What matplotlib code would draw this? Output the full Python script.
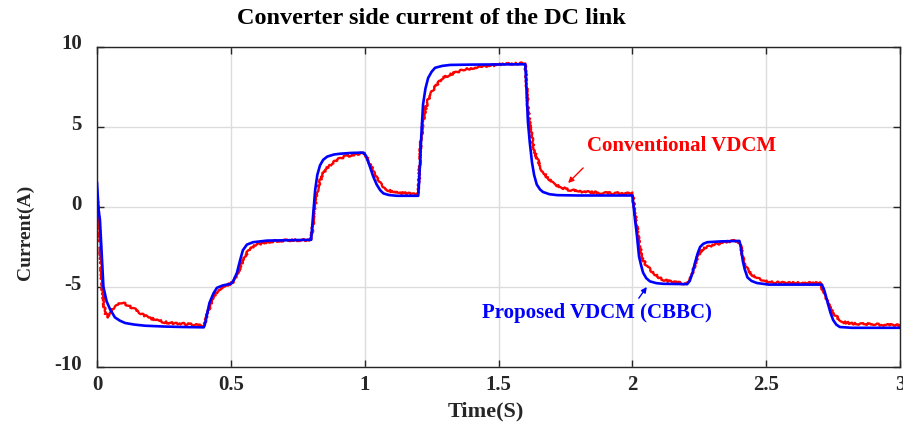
import matplotlib
matplotlib.use("Agg")
import matplotlib.pyplot as plt
import matplotlib.transforms as mtransforms

# proposed VDCM (CBBC) current, sampled off the scope trace
t_prop = [0, 0.006, 0.011, 0.0175, 0.024, 0.036, 0.049, 0.067, 0.085, 0.105, 0.14, 0.18, 0.25, 0.32, 0.399,
          0.405, 0.42, 0.435, 0.448, 0.47, 0.5, 0.51, 0.523, 0.535, 0.545, 0.56, 0.583, 0.635, 0.8,
          0.805, 0.815, 0.823, 0.833, 0.845, 0.86, 0.885, 0.908, 0.95, 0.995,
          1.005, 1.02, 1.032, 1.045, 1.058, 1.07, 1.09, 1.12, 1.2,
          1.203, 1.207, 1.212, 1.218, 1.227, 1.237, 1.25, 1.263, 1.29, 1.32, 1.4, 1.6,
          1.605, 1.61, 1.617, 1.625, 1.633, 1.643, 1.655, 1.666, 1.69, 1.72, 1.8, 2.0,
          2.005, 2.01, 2.016, 2.025, 2.032, 2.04, 2.052, 2.066, 2.09, 2.115, 2.205,
          2.215, 2.225, 2.234, 2.244, 2.253, 2.265, 2.28, 2.33, 2.40,
          2.405, 2.413, 2.42, 2.43, 2.445, 2.465, 2.51, 2.707,
          2.715, 2.722, 2.73, 2.74, 2.75, 2.762, 2.775, 2.82, 3.0]
i_prop = [1.5, -0.2, -0.8, -2.9, -5.0, -5.9, -6.4, -6.9, -7.1, -7.25, -7.35, -7.42, -7.47, -7.5, -7.52,
          -7.2, -6.0, -5.4, -5.05, -4.9, -4.8, -4.6, -4.1, -3.3, -2.7, -2.35, -2.2, -2.1, -2.05,
          -1.0, 1.06, 2.0, 2.6, 2.95, 3.15, 3.28, 3.33, 3.38, 3.4,
          3.2, 2.5, 1.9, 1.4, 1.05, 0.85, 0.75, 0.7, 0.7,
          1.5, 2.8, 4.6, 6.4, 7.4, 8.06, 8.45, 8.7, 8.82, 8.88, 8.9, 8.92,
          7.2, 5.3, 4.0, 2.8, 2.0, 1.4, 1.1, 0.94, 0.8, 0.74, 0.72, 0.72,
          0.0, -0.8, -1.6, -3.1, -3.6, -4.1, -4.45, -4.65, -4.76, -4.8, -4.82,
          -4.6, -4.1, -3.5, -2.9, -2.5, -2.3, -2.2, -2.15, -2.12,
          -2.5, -3.4, -3.9, -4.4, -4.62, -4.75, -4.85, -4.85,
          -5.1, -5.5, -6.0, -6.6, -7.06, -7.35, -7.5, -7.55, -7.55]

# conventional VDCM current
t_conv = [0, 0.005, 0.011, 0.019, 0.025, 0.03, 0.041, 0.048, 0.056, 0.066, 0.078, 0.092, 0.105, 0.12, 0.142,
          0.165, 0.19, 0.22, 0.254, 0.29, 0.318, 0.36, 0.4,
          0.406, 0.413, 0.42, 0.43, 0.44, 0.455, 0.47, 0.485, 0.5, 0.512, 0.527, 0.54, 0.553, 0.565, 0.58,
          0.6, 0.617, 0.65, 0.684, 0.8,
          0.806, 0.81, 0.815, 0.82, 0.826, 0.835, 0.845, 0.857, 0.87, 0.89, 0.908, 0.93, 0.956, 0.98, 1.0,
          1.008, 1.018, 1.027, 1.035, 1.045, 1.057, 1.07, 1.087, 1.105, 1.13, 1.157, 1.2,
          1.203, 1.207, 1.212, 1.218, 1.227, 1.237, 1.25, 1.263, 1.278, 1.293, 1.318, 1.344, 1.375, 1.405,
          1.45, 1.505, 1.55, 1.6,
          1.605, 1.61, 1.617, 1.625, 1.633, 1.643, 1.655, 1.666, 1.678, 1.69, 1.705, 1.735, 1.767, 1.8,
          1.83, 1.89, 2.0,
          2.005, 2.01, 2.016, 2.025, 2.032, 2.04, 2.052, 2.066, 2.085, 2.103, 2.125, 2.152, 2.204,
          2.215, 2.225, 2.234, 2.244, 2.253, 2.265, 2.28, 2.3, 2.33, 2.36, 2.395,
          2.405, 2.413, 2.42, 2.43, 2.445, 2.465, 2.49, 2.51, 2.6, 2.705,
          2.712, 2.72, 2.73, 2.74, 2.75, 2.765, 2.787, 2.82, 2.85, 2.92, 3.0]
i_conv = [0.8, -0.5, -2.3, -5.0, -6.0, -6.6, -6.9, -6.75, -6.4, -6.2, -6.1, -6.02, -6.05, -6.2, -6.4,
          -6.65, -6.9, -7.05, -7.2, -7.27, -7.3, -7.36, -7.4,
          -7.1, -6.6, -6.3, -5.85, -5.5, -5.2, -5.0, -4.88, -4.8, -4.6, -4.1, -3.55, -3.1, -2.75, -2.5,
          -2.35, -2.25, -2.15, -2.1, -2.05,
          -1.2, -0.6, 0.0, 0.7, 1.25, 1.7, 2.1, 2.4, 2.6, 2.85, 3.05, 3.17, 3.25, 3.33, 3.4,
          3.1, 2.75, 2.5, 2.1, 1.8, 1.5, 1.25, 1.05, 0.94, 0.88, 0.85, 0.8,
          1.6, 3.25, 4.4, 5.3, 6.1, 6.7, 7.15, 7.5, 7.8, 8.06, 8.28, 8.44, 8.6, 8.7,
          8.82, 8.9, 8.95, 9.0,
          7.6, 6.2, 5.2, 4.3, 3.6, 3.06, 2.55, 2.2, 1.93, 1.7, 1.45, 1.22, 1.06, 0.98,
          0.94, 0.87, 0.85,
          0.3, -0.4, -1.0, -2.25, -2.8, -3.3, -3.65, -3.9, -4.2, -4.45, -4.6, -4.7, -4.8,
          -4.6, -4.1, -3.6, -3.1, -2.8, -2.6, -2.5, -2.38, -2.25, -2.17, -2.1,
          -2.5, -3.1, -3.5, -3.9, -4.2, -4.45, -4.62, -4.7, -4.75, -4.75,
          -5.3, -5.6, -6.0, -6.35, -6.6, -6.9, -7.2, -7.27, -7.3, -7.35, -7.4]

x_ticks = [0, 0.5, 1, 1.5, 2, 2.5, 3]
x_ticklabels = ['0', '0.5', '1', '1.5', '2', '2.5', '3']
y_ticks = [-10, -5, 0, 5, 10]

plt.rcParams['font.family'] = 'Liberation Serif'
plt.rcParams['font.weight'] = 'bold'
plt.rcParams['axes.unicode_minus'] = False

fig = plt.figure(figsize=(9.04, 4.30), dpi=100)
ax = fig.add_axes([0.1073, 0.1465, 0.8883, 0.7442])

red_line, = ax.plot(t_conv, i_conv, color='#ff0000', lw=1.7, zorder=2)
red_line.set_sketch_params(scale=1.0, length=2, randomness=16)
ax.plot(t_prop, i_prop, color='#0000ff', lw=1.9, zorder=3)

ax.set_xlim(0, 3)
ax.set_ylim(-10, 10)
ax.set_xticks(x_ticks)
ax.set_xticklabels(x_ticklabels)
ax.set_yticks(y_ticks)
ax.grid(True, color='#dcdcdc', lw=1.0)
ax.set_axisbelow(True)
for sp in ax.spines.values():
    sp.set_color('#262626')
    sp.set_linewidth(1.0)
ax.tick_params(direction='in', length=5, width=1, top=True, right=True,
               labelsize=15, colors='#262626', labelcolor='#262626')
ax.tick_params(axis='x', pad=6)
ax.tick_params(axis='y', pad=11)
# y tick labels sit a little above their ticks
shift = mtransforms.ScaledTranslation(0, 5 / 100, fig.dpi_scale_trans)
for lab in ax.get_yticklabels():
    lab.set_transform(lab.get_transform() + shift)

ax.set_xlabel('Time(S)', fontsize=16, fontweight='bold', color='#262626')
ax.xaxis.set_label_coords(0.484, -0.107)
ax.set_ylabel('Current(A)', fontsize=14, fontweight='bold', color='#262626')
ax.yaxis.set_label_coords(-0.079, 0.42)

fig.text(431 / 904, 0.944, 'Converter side current of the DC link', ha='center', va='baseline',
         fontsize=17.5, fontweight='bold', color='black')

ax.text(1.83, 3.8, 'Conventional VDCM', color='#ff0000', fontsize=15, fontweight='bold',
        va='center', ha='left')
ax.annotate('', xy=(1.76, 1.5), xytext=(1.816, 2.44),
            arrowprops=dict(arrowstyle='-|>', color='#ff0000', lw=1.0, mutation_scale=8,
                            shrinkA=0, shrinkB=0))
ax.text(1.869, -6.65, 'Proposed VDCM (CBBC)', color='#0000ff', fontsize=15, fontweight='bold',
        va='center', ha='center')
ax.annotate('', xy=(2.054, -5.0), xytext=(2.024, -5.7),
            arrowprops=dict(arrowstyle='-|>', color='#0000ff', lw=1.0, mutation_scale=8,
                            shrinkA=0, shrinkB=0))

fig.savefig('out.png', dpi=100)
